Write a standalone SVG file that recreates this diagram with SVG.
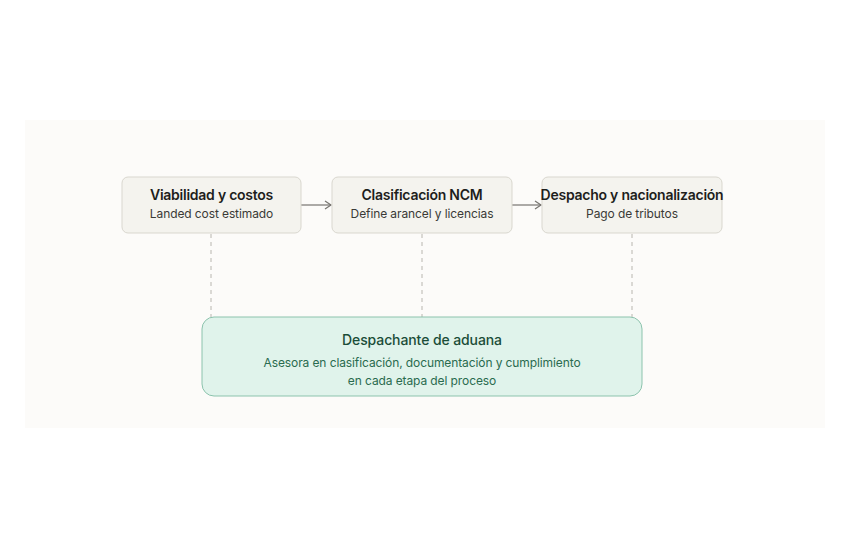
<svg xmlns="http://www.w3.org/2000/svg" width="850" height="550" viewBox="0 0 850 550">
<defs>
<style>
.node{fill:#f4f3ee;stroke:#d9d7cf;stroke-width:1}
.t{font-family:Inter,"Liberation Sans",sans-serif;font-size:14px;font-weight:600;fill:#1e1e1c;text-anchor:middle;letter-spacing:-0.25px}
.s{font-family:Inter,"Liberation Sans",sans-serif;font-size:12px;fill:#3a3a36;text-anchor:middle;letter-spacing:-0.1px}
.gt{font-family:Inter,"Liberation Sans",sans-serif;font-size:14px;font-weight:500;fill:#1b4d38;text-anchor:middle;letter-spacing:-0.1px}
.gs{font-family:Inter,"Liberation Sans",sans-serif;font-size:12px;fill:#2a6b4f;text-anchor:middle;letter-spacing:-0.1px}
.arrow{stroke:#777570;stroke-width:1.2;fill:none}
.dash{stroke:#c4c2bb;stroke-width:1.2;stroke-dasharray:4 4;fill:none}
</style>
<marker id="ah" markerWidth="10" markerHeight="10" refX="8" refY="5" orient="auto" markerUnits="userSpaceOnUse">
<path d="M2,1 L8,5 L2,9" fill="none" stroke="#777570" stroke-width="1.2"/>
</marker>
</defs>
<rect x="0" y="0" width="850" height="550" fill="#ffffff"/>
<rect x="25" y="120" width="800" height="308" fill="#fcfbf9"/>
<g id="connectors">
<line class="arrow" x1="301" y1="205" x2="331" y2="205" marker-end="url(#ah)"/>
<line class="arrow" x1="512" y1="205" x2="541" y2="205" marker-end="url(#ah)"/>
<line class="dash" x1="211" y1="234" x2="211" y2="317"/>
<line class="dash" x1="422" y1="234" x2="422" y2="317"/>
<line class="dash" x1="632" y1="234" x2="632" y2="317"/>
</g>
<g id="node-viabilidad">
<rect class="node" x="122" y="177" width="179" height="56" rx="6"/>
<text class="t" x="211.5" y="200">Viabilidad y costos</text>
<text class="s" x="211.5" y="218">Landed cost estimado</text>
</g>
<g id="node-clasificacion">
<rect class="node" x="332" y="177" width="180" height="56" rx="6"/>
<text class="t" x="422" y="200">Clasificación NCM</text>
<text class="s" x="422" y="218">Define arancel y licencias</text>
</g>
<g id="node-despacho">
<rect class="node" x="542" y="177" width="180" height="56" rx="6"/>
<text class="t" x="632" y="200">Despacho y nacionalización</text>
<text class="s" x="632" y="218">Pago de tributos</text>
</g>
<g id="node-despachante">
<rect x="202" y="317" width="440" height="79" rx="12" fill="#e0f3eb" stroke="#8cc3ad" stroke-width="1"/>
<text class="gt" x="422" y="345">Despachante de aduana</text>
<text class="gs" x="422" y="367">Asesora en clasificación, documentación y cumplimiento</text>
<text class="gs" x="422" y="385">en cada etapa del proceso</text>
</g>
</svg>
